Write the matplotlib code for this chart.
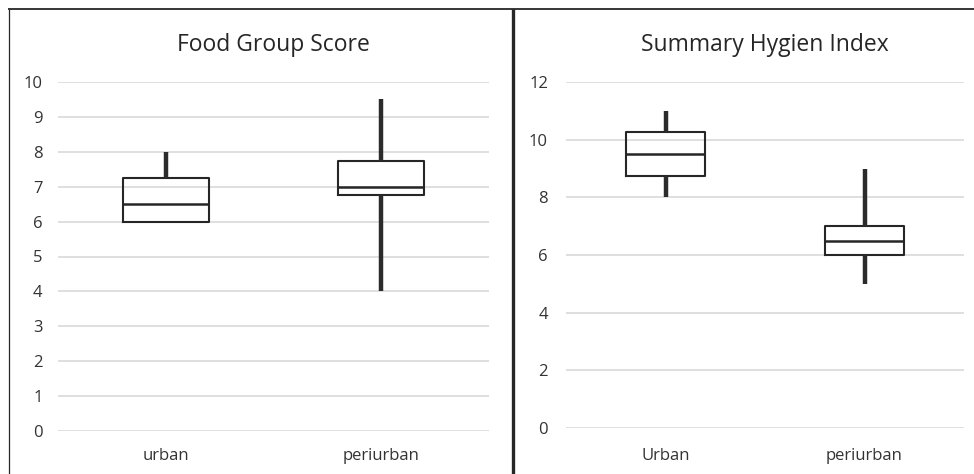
import matplotlib
matplotlib.use("Agg")
import matplotlib.pyplot as plt
from matplotlib.lines import Line2D

plt.rcParams['font.family'] = ['Open Sans', 'DejaVu Sans']

# Food Group Score
food_cats = ["urban", "periurban"]
food_min = [6, 4]
food_q1 = [6, 6.75]
food_med = [6.5, 7]
food_q3 = [7.25, 7.75]
food_max = [8, 9.5]
food_ticks = [0, 1, 2, 3, 4, 5, 6, 7, 8, 9, 10]

# Summary Hygien Index
hyg_cats = ["Urban", "periurban"]
hyg_min = [8, 5]
hyg_q1 = [8.75, 6]
hyg_med = [9.5, 6.5]
hyg_q3 = [10.25, 7]
hyg_max = [11, 9]
hyg_ticks = [0, 2, 4, 6, 8, 10, 12]

W, H = 974, 474
fig = plt.figure(figsize=(W / 100, H / 100), dpi=100)

def px_axes(x0, x1, ytop, ybot):
    return fig.add_axes([x0 / W, 1 - ybot / H, (x1 - x0) / W, (ybot - ytop) / H])

dark = "#262626"
grid_c = "#d9d9d9"

def draw(ax, cats, mn, q1, med, q3, mx, ticks, title, xpad, ypad):
    stats = []
    for i in range(len(cats)):
        stats.append(dict(label=cats[i], whislo=mn[i], q1=q1[i], med=med[i],
                          q3=q3[i], whishi=mx[i], fliers=[]))
    ax.bxp(stats, positions=range(len(cats)), widths=0.4, showfliers=False,
           showcaps=False,
           boxprops=dict(color=dark, linewidth=1.5),
           medianprops=dict(color=dark, linewidth=1.8),
           whiskerprops=dict(color="#2b2b2b", linewidth=3.2, solid_capstyle='butt'),
           zorder=3)
    ax.set_xlim(-0.5, len(cats) - 0.5)
    ax.set_ylim(ticks[0], ticks[-1])
    ax.set_yticks(ticks)
    ax.set_yticklabels([str(t) for t in ticks])
    ax.set_xticks(range(len(cats)))
    ax.set_xticklabels(cats)
    ax.grid(axis='y', color=grid_c, linewidth=1.2, zorder=0)
    ax.set_axisbelow(True)
    for s in ax.spines.values():
        s.set_visible(False)
    ax.tick_params(axis='both', length=0, labelsize=12, colors="#333333")
    ax.tick_params(axis='x', pad=xpad)
    ax.tick_params(axis='y', pad=ypad)
    for art in ax.lines + ax.patches:
        art.set_clip_on(False)
    bb = ax.get_position()
    yfig = 1 - 53 / H
    ax.set_title(title, fontsize=16.5, color=dark, va='center',
                 y=(yfig - bb.y0) / bb.height)

ax1 = px_axes(58, 489, 82, 431)
draw(ax1, food_cats, food_min, food_q1, food_med, food_q3, food_max, food_ticks,
     "Food Group Score", 12.5, 11)
ax2 = px_axes(566, 964, 82, 428)
draw(ax2, hyg_cats, hyg_min, hyg_q1, hyg_med, hyg_q3, hyg_max, hyg_ticks,
     "Summary Hygien Index", 14.5, 13)

# panel borders
def fline(xs, ys, lw):
    fig.add_artist(Line2D([x / W for x in xs], [1 - y / H for y in ys],
                          transform=fig.transFigure, color=dark, linewidth=lw,
                          solid_capstyle='butt'))

fline([8, 974], [9, 9], 1.3)
fline([8.5, 8.5], [9, 474], 0.9)
fline([513, 513], [9, 474], 2.4)

fig.savefig("out.png", dpi=100, facecolor="white")
